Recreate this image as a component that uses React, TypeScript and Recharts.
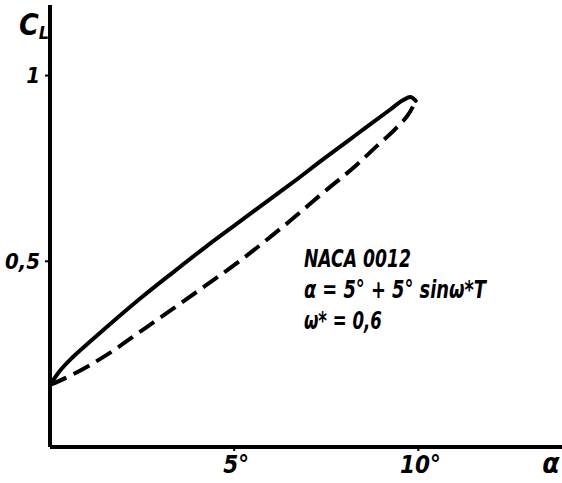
import React from "react";
import { LineChart, Line, XAxis, YAxis, ReferenceDot, Label } from "recharts";

// angle of attack (deg) and lift coefficient
const upAlpha = [0, 0.27, 0.63, 1.09, 1.54, 2.44, 3.35, 4.23, 5.14, 6.05, 6.52, 7.42, 8.33, 9.23, 9.59, 9.78, 9.93];
const upCl = [0.167, 0.205, 0.243, 0.284, 0.323, 0.399, 0.471, 0.539, 0.606, 0.673, 0.707, 0.775, 0.842, 0.908, 0.934, 0.942, 0.932];
const downAlpha = [0, 0.63, 1.54, 2.44, 3.35, 4.23, 5.14, 6.05, 6.52, 7.42, 8.33, 8.87, 9.41, 9.78, 9.93];
const downCl = [0.167, 0.196, 0.248, 0.31, 0.373, 0.435, 0.5, 0.571, 0.609, 0.685, 0.76, 0.81, 0.86, 0.903, 0.932];

const xTicks = [5, 10];
const yTicks = [0.5, 1];
const notes = ["NACA 0012", "α = 5° + 5° sinω*T", "ω* = 0,6"];

const upper = upAlpha.map((a, i) => ({ a, cl: upCl[i] }));
const lower = downAlpha.map((a, i) => ({ a, cl: downCl[i] }));

const FONT = "'DejaVu Sans Condensed', 'Liberation Sans Narrow', 'DejaVu Sans', sans-serif";
const txt = {
  fontFamily: FONT,
  fontStyle: "italic" as const,
  fontWeight: 700,
  fill: "#000",
};

function YTick(props: any) {
  const { x, y, payload } = props;
  return (
    <text x={x - 3} y={y} textAnchor="end" dominantBaseline="central" fontSize={22} {...txt}>
      {payload.value === 1 ? "1" : String(payload.value).replace(".", ",")}
    </text>
  );
}

function XTick(props: any) {
  const { x, y, payload } = props;
  return (
    <text x={x + 2} y={y + 20} textAnchor="middle" fontSize={24} {...txt}>
      {payload.value}°
    </text>
  );
}

function Notes(props: any) {
  const { viewBox } = props;
  const x = viewBox.x;
  const y = viewBox.y;
  const widths = [107, 182, 78];
  return (
    <g>
      {notes.map((n, i) => (
        <text
          key={n}
          x={x}
          y={y + i * 31}
          fontSize={24}
          textLength={widths[i]}
          lengthAdjust="spacingAndGlyphs"
          {...txt}
        >
          {n}
        </text>
      ))}
    </g>
  );
}

export default function App() {
  return (
    <div style={{ position: "absolute", left: 0, top: 0, background: "#fff" }}>
      <LineChart width={562} height={483} margin={{ top: 5, right: 0, left: 0, bottom: 0 }}>
        <XAxis
          type="number"
          dataKey="a"
          domain={[0, 13.9]}
          ticks={xTicks}
          height={36}
          axisLine={{ stroke: "#000", strokeWidth: 4 }}
          tickLine={{ stroke: "#000", strokeWidth: 2 }}
          tickSize={4}
          tick={<XTick />}
          allowDataOverflow
        >
          <Label
            content={(p: any) => (
              <text
                x={p.viewBox.x + p.viewBox.width - 11}
                y={p.viewBox.y + 26}
                textAnchor="middle"
                fontSize={28}
                {...txt}
              >
                α
              </text>
            )}
          />
        </XAxis>
        <YAxis
          type="number"
          domain={[0, 1.19]}
          ticks={yTicks}
          width={50}
          axisLine={{ stroke: "#000", strokeWidth: 4 }}
          tickLine={{ stroke: "#000", strokeWidth: 2 }}
          tickSize={5}
          tick={<YTick />}
          allowDataOverflow
        >
          <Label
            content={(p: any) => (
              <text x={p.viewBox.x + 19} y={p.viewBox.y + 30} fontSize={30} {...txt}>
                C
                <tspan fontSize={18} dy={4}>
                  L
                </tspan>
              </text>
            )}
          />
        </YAxis>
        <Line
          data={upper}
          dataKey="cl"
          type="monotone"
          stroke="#000"
          strokeWidth={4}
          strokeLinecap="round"
          dot={false}
          isAnimationActive={false}
        />
        <Line
          data={lower}
          dataKey="cl"
          type="monotone"
          stroke="#000"
          strokeWidth={4}
          strokeDasharray="18 8"
          dot={false}
          isAnimationActive={false}
        />
        <ReferenceDot x={6.92} y={0.482} r={1} fill="none" stroke="none" label={<Notes />} />
      </LineChart>
    </div>
  );
}
